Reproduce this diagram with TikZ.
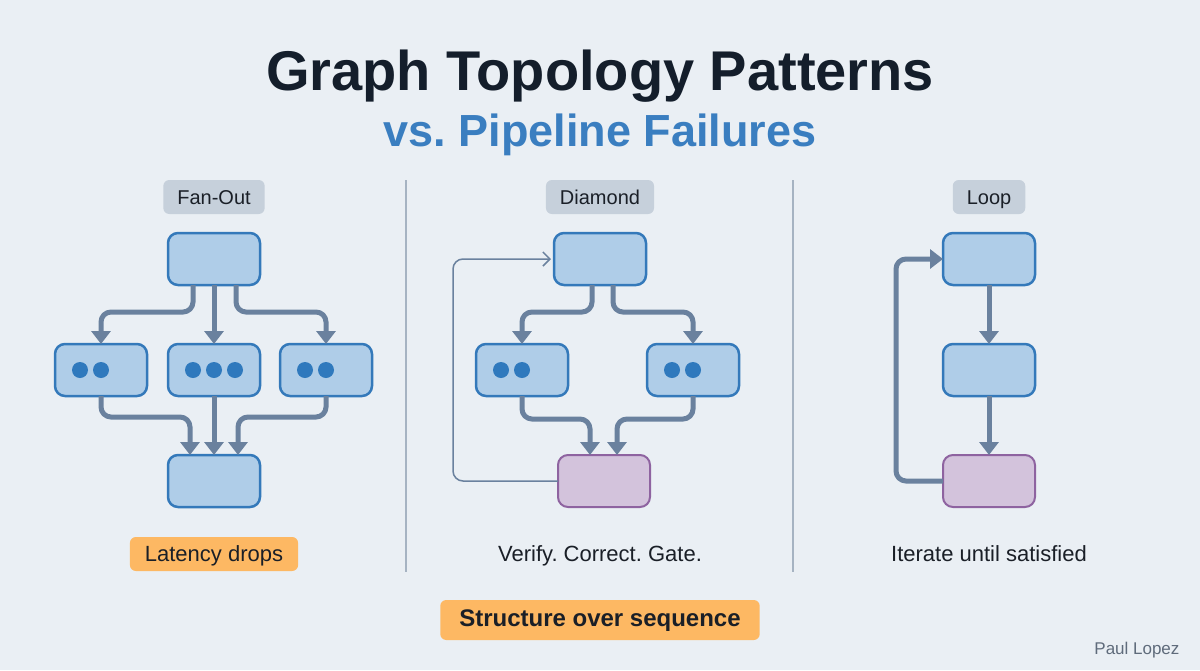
\documentclass[tikz,border=0pt]{standalone}
\usepackage{fontspec}
\setmainfont{Liberation Sans}
\usepackage{tikz}
\usetikzlibrary{arrows.meta, positioning}
\frenchspacing
\definecolor{gbg}{HTML}{EAEFF4}
\definecolor{gink}{HTML}{141E2B}
\definecolor{gblue}{HTML}{3A7EC0}
\definecolor{gfill}{HTML}{AFCDE8}
\definecolor{gline}{HTML}{3479BA}
\definecolor{gdot}{HTML}{2F79BD}
\definecolor{gpfill}{HTML}{D3C3DC}
\definecolor{gpline}{HTML}{8E63A0}
\definecolor{gslate}{HTML}{6A819E}
\definecolor{gtag}{HTML}{C6D0DB}
\definecolor{gorange}{HTML}{FDB863}
\definecolor{gsep}{HTML}{A6B3C2}
\definecolor{gtext}{HTML}{1A1F27}
\definecolor{gauthor}{HTML}{5F6B7B}
\tikzset{
  box/.style={rectangle, rounded corners=10pt, draw=gline, fill=gfill, line width=2.5pt,
              minimum width=92pt, minimum height=52pt, inner sep=0pt, outer sep=0pt},
  gate/.style={box, draw=gpline, fill=gpfill, line width=2pt},
  tag/.style={rectangle, rounded corners=6pt, fill=gtag, text=gtext, minimum height=34pt,
              inner xsep=14pt, text height=14pt, text depth=0pt, font=\fontsize{20}{24}\selectfont},
  note/.style={rectangle, rounded corners=6pt, fill=gorange, text=gtext, minimum height=34pt,
              inner xsep=15pt, text height=16pt, text depth=1pt, font=\fontsize{22}{26}\selectfont},
  caption/.style={text=gtext, text height=16pt, text depth=1pt, font=\fontsize{22}{26}\selectfont},
  flow/.style={-{Triangle[width=19pt,length=13pt]}, draw=gslate, line width=5pt, rounded corners=10pt},
  backflow/.style={-{Straight Barb[width=14pt,length=7pt]}, draw=gslate, line width=1.5pt, rounded corners=10pt},
  sep/.style={draw=gsep, line width=1.5pt}
}
\newcommand{\gdots}[2]{\foreach \dx in {#2} \fill[gdot] ([xshift=\dx pt]#1.center) circle (8pt);}
\begin{document}
\begin{tikzpicture}[x=1pt, y=-1pt]
  \useasboundingbox (0,0) rectangle (1200,670);
  \fill[gbg] (0,0) rectangle (1200,670);

  \node[anchor=base, text=gink, font=\fontsize{56}{60}\selectfont\bfseries] (ttl) at (600,90) {Graph Topology Patterns};
  \node[anchor=base, text=gblue, font=\fontsize{45}{50}\selectfont\bfseries] (sub) at (600,146) {vs. Pipeline Failures};

  \draw[sep] (406,180) -- (406,572);
  \draw[sep] (793,180) -- (793,572);

  % fan-out
  \node[tag] (fTag) at (214,197) {Fan-Out};
  \node[box] (fTop) at (214,259) {};
  \node[box, below=59pt of fTop] (fM) {};
  \node[box, left=21pt of fM] (fL) {};
  \node[box, right=20pt of fM] (fR) {};
  \node[box, below=59pt of fM] (fBot) {};
  \gdots{fL}{-21,0}
  \gdots{fM}{-21,0,21}
  \gdots{fR}{-21,0}
  \draw[flow] ([xshift=-21pt]fTop.south) -- ++(0,27) -| (fL.north);
  \draw[flow] (fTop) -- (fM);
  \draw[flow] ([xshift=22pt]fTop.south) -- ++(0,27) -| (fR.north);
  \draw[flow] (fL.south) -- ++(0,21) -| ([xshift=-24pt]fBot.north);
  \draw[flow] (fM) -- (fBot);
  \draw[flow] (fR.south) -- ++(0,21) -| ([xshift=24pt]fBot.north);
  \node[note] (fNote) at (214,554) {Latency drops};

  % diamond
  \node[tag] (dTag) at (600,197) {Diamond};
  \node[box] (dTop) at (600,259) {};
  \node[box] (dL) at (522,370) {};
  \node[box] (dR) at (693,370) {};
  \node[gate] (dGate) at (604,481) {};
  \gdots{dL}{-21,0}
  \gdots{dR}{-21,0}
  \draw[flow] ([xshift=-8pt]dTop.south) -- ++(0,27) -| (dL.north);
  \draw[flow] ([xshift=13pt]dTop.south) -- ++(0,27) -| (dR.north);
  \draw[flow] (dL.south) -- ++(0,23) -| ([xshift=-14pt]dGate.north);
  \draw[flow] (dR.south) -- ++(0,23) -| ([xshift=13pt]dGate.north);
  \draw[backflow] (dGate.west) -- ++(-105,0) |- ([xshift=-3pt]dTop.west);
  \node[caption] (dCap) at (600,554) {Verify. Correct. Gate.};

  % loop
  \node[tag] (lTag) at (989,197) {Loop};
  \node[box] (lTop) at (989,259) {};
  \node[box, below=59pt of lTop] (lMid) {};
  \node[gate, below=59pt of lMid] (lGate) {};
  \draw[flow] (lTop) -- (lMid);
  \draw[flow] (lMid) -- (lGate);
  \draw[flow] (lGate.west) -- ++(-47,0) |- (lTop.west);
  \node[caption] (lCap) at (989,554) {Iterate until satisfied};

  \node[note, minimum height=40pt, inner xsep=19pt, text height=18pt, text depth=5pt,
        font=\fontsize{24}{28}\selectfont\bfseries] (moral) at (600,620) {Structure over sequence};
  \node[anchor=base east, text=gauthor, font=\fontsize{17}{20}\selectfont] (author) at (1183,654) {Paul Lopez};
\end{tikzpicture}
\end{document}
